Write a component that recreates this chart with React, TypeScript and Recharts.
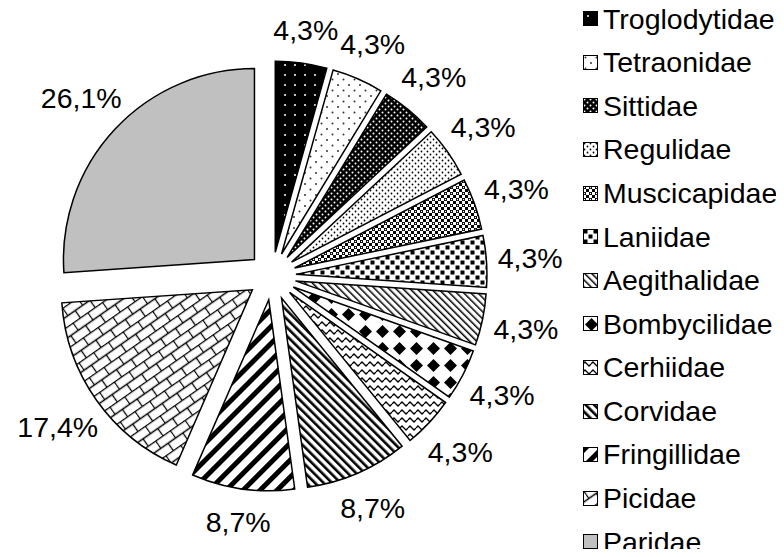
import React from "react";
import { PieChart, Pie, Cell, Legend } from "recharts";

const families = [
  "Troglodytidae",
  "Tetraonidae",
  "Sittidae",
  "Regulidae",
  "Muscicapidae",
  "Laniidae",
  "Aegithalidae",
  "Bombycilidae",
  "Cerhiidae",
  "Corvidae",
  "Fringillidae",
  "Picidae",
  "Paridae",
];

// number of species per family
const counts = [1, 1, 1, 1, 1, 1, 1, 1, 1, 2, 2, 4, 6];

const total = counts.reduce((a, b) => a + b, 0);
const percentLabels = counts.map((c) => ((c / total) * 100).toFixed(1).replace(".", ","));
const data = families.map((name, i) => ({ name, value: counts[i] }));

const CX = 272;
const CY = 276;
const R = 191;
const EXPLODE = 24;
const FONT = 28.5;
const LABEL_GAP = 25;

// mid angle of each slice (degrees, recharts convention, clockwise from top)
const midAngles = counts.map((c, i) => {
  const before = counts.slice(0, i).reduce((a, b) => a + b, 0);
  return 90 - (360 * (before + c / 2)) / total;
});

const renderLabel = (i: number) => (props: any) => {
  if (props.index !== i) return null;
  const { cx, cy, midAngle, outerRadius } = props;
  const a = (midAngle * Math.PI) / 180;
  const cos = Math.cos(a);
  const sin = Math.sin(a);
  const text = percentLabels[i] + "%";
  const hw = text.length * 0.27 * FONT;
  const r = outerRadius + LABEL_GAP + 0.6 * hw * Math.abs(cos) + 6 * Math.abs(sin);
  return (
    <text
      x={cx + r * cos}
      y={cy - r * sin}
      textAnchor="middle"
      dominantBaseline="central"
      fontFamily="'Liberation Sans', Arial, sans-serif"
      fontSize={FONT}
      fill="#000"
    >
      {text}
    </text>
  );
};

const renderLegend = () => (
  <div style={{ fontFamily: "'Liberation Sans', Arial, sans-serif", fontSize: FONT, lineHeight: 1, color: "#000" }}>
    {families.map((f, i) => (
      <div key={f} style={{ display: "flex", alignItems: "center", height: 43.6 }}>
        <svg width={15} height={15} style={{ flex: "none" }}>
          <rect x={0.5} y={0.5} width={14} height={14} fill={`url(#pat${i})`} stroke="#000" />
        </svg>
        <span style={{ marginLeft: 5, whiteSpace: "nowrap" }}>{f}</span>
      </div>
    ))}
  </div>
);

export default function App() {
  return (
    <div style={{ margin: -8, width: 784, height: 557, background: "#fff" }}>
      <PieChart width={784} height={557} margin={{ top: 0, right: 0, bottom: 0, left: 0 }}>
        <defs>
          <pattern id="pat0" width={10} height={10} patternUnits="userSpaceOnUse">
            <rect width={10} height={10} fill="#000" />
            <circle cx={5} cy={5} r={1} fill="#fff" />
          </pattern>
          <pattern id="pat1" width={11} height={11} patternUnits="userSpaceOnUse">
            <rect width={11} height={11} fill="#fff" />
            <circle cx={2.5} cy={2.5} r={1} fill="#333" />
            <circle cx={8} cy={8} r={1} fill="#333" />
          </pattern>
          <pattern id="pat2" width={6} height={6} patternUnits="userSpaceOnUse">
            <rect width={6} height={6} fill="#000" />
            <circle cx={1.5} cy={1.5} r={1} fill="#fff" />
            <circle cx={4.5} cy={4.5} r={1} fill="#fff" />
          </pattern>
          <pattern id="pat3" width={6} height={6} patternUnits="userSpaceOnUse">
            <rect width={6} height={6} fill="#fff" />
            <circle cx={1.5} cy={1.5} r={0.9} fill="#000" />
            <circle cx={4.5} cy={4.5} r={0.9} fill="#000" />
          </pattern>
          <pattern id="pat4" width={6} height={6} patternUnits="userSpaceOnUse">
            <rect width={6} height={6} fill="#fff" />
            <rect width={3} height={3} fill="#000" />
            <rect x={3} y={3} width={3} height={3} fill="#000" />
            <circle cx={1.5} cy={1.5} r={0.7} fill="#fff" />
          </pattern>
          <pattern id="pat5" width={10} height={10} patternUnits="userSpaceOnUse">
            <rect width={10} height={10} fill="#fff" />
            <rect x={0.5} y={0.5} width={4} height={4} fill="#000" />
            <rect x={5.5} y={5.5} width={4} height={4} fill="#000" />
          </pattern>
          <pattern id="pat6" width={5} height={5} patternUnits="userSpaceOnUse" patternTransform="rotate(-45)">
            <rect width={5} height={5} fill="#fff" />
            <rect width={1.5} height={5} fill="#000" />
          </pattern>
          <pattern id="pat7" width={17} height={17} patternUnits="userSpaceOnUse">
            <rect width={17} height={17} fill="#fff" />
            <path d="M8.5 2 L15 8.5 L8.5 15 L2 8.5 Z" fill="#000" />
          </pattern>
          <pattern id="pat8" width={8} height={8} patternUnits="userSpaceOnUse">
            <rect width={8} height={8} fill="#fff" />
            <path d="M0 4 L2 2 L4 4 L6 6 L8 4" fill="none" stroke="#000" strokeWidth={1.3} />
          </pattern>
          <pattern id="pat9" width={6} height={6} patternUnits="userSpaceOnUse" patternTransform="rotate(-45)">
            <rect width={6} height={6} fill="#fff" />
            <rect width={2.6} height={6} fill="#000" />
          </pattern>
          <pattern id="pat10" width={12} height={12} patternUnits="userSpaceOnUse" patternTransform="rotate(45)">
            <rect width={12} height={12} fill="#fff" />
            <rect width={5} height={12} fill="#000" />
          </pattern>
          <pattern id="pat11" width={18} height={18} patternUnits="userSpaceOnUse" patternTransform="rotate(-35)">
            <rect width={18} height={18} fill="#fff" />
            <path d="M0 0.5 H18 M0 9.5 H18 M0.5 0 V9 M9.5 9 V18" stroke="#000" strokeWidth={1.3} />
          </pattern>
          <pattern id="pat12" width={10} height={10} patternUnits="userSpaceOnUse">
            <rect width={10} height={10} fill="#c0c0c0" />
          </pattern>
        </defs>
        {families.map((f, i) => {
          const a = (midAngles[i] * Math.PI) / 180;
          return (
            <Pie
              key={f}
              data={data}
              dataKey="value"
              nameKey="name"
              cx={CX + EXPLODE * Math.cos(a)}
              cy={CY - EXPLODE * Math.sin(a)}
              innerRadius={0}
              outerRadius={R}
              startAngle={90}
              endAngle={-270}
              isAnimationActive={false}
              labelLine={false}
              label={renderLabel(i)}
              legendType="none"
            >
              {data.map((d, j) => (
                <Cell
                  key={d.name}
                  fill={j === i ? `url(#pat${i})` : "none"}
                  stroke={j === i ? "#000" : "none"}
                  strokeWidth={1.5}
                />
              ))}
            </Pie>
          );
        })}
        <Legend
          layout="vertical"
          align="right"
          verticalAlign="top"
          content={renderLegend}
          wrapperStyle={{ left: 583, top: -3, width: 201 }}
        />
      </PieChart>
    </div>
  );
}
